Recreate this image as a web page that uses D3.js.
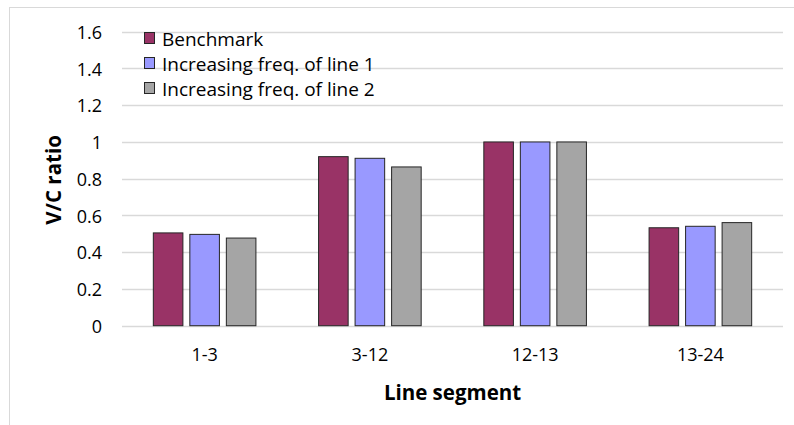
<!DOCTYPE html>
<html>
<head>
<meta charset="utf-8">
<script src="https://cdn.jsdelivr.net/npm/d3@7"></script>
<style>
  html, body { margin: 0; padding: 0; background: #fff; }
  svg { display: block; }
  text { font-family: "Open Sans", Lato, sans-serif; fill: #000; }
</style>
</head>
<body>
<svg id="chart" width="794" height="425"></svg>
<script>
// Line segments and V/C ratios per scenario
const segments = ["1-3", "3-12", "12-13", "13-24"];
const seriesNames = ["Benchmark", "Increasing freq. of line 1", "Increasing freq. of line 2"];
const benchmark = [0.505, 0.92, 1.00, 0.533];
const freqLine1 = [0.497, 0.911, 1.00, 0.541];
const freqLine2 = [0.477, 0.864, 1.00, 0.561];
const yTicks = [0, 0.2, 0.4, 0.6, 0.8, 1, 1.2, 1.4, 1.6];
const colors = ["#993366", "#9999FF", "#A5A5A5"];

const seriesValues = [benchmark, freqLine1, freqLine2];
const FONT = "'Open Sans', Lato, sans-serif";

const svg = d3.select("#chart");
const W = 794, H = 425;

// Chart frame
svg.append("rect")
  .attr("x", 9.5).attr("y", 7.5)
  .attr("width", W + 10).attr("height", H + 10)
  .attr("fill", "#fff").attr("stroke", "#d9d9d9").attr("stroke-width", 1);

const plot = { left: 122, right: 783, top: 31.7, bottom: 325.7 };

const x = d3.scaleBand().domain(segments).range([plot.left, plot.right]);
const xInner = d3.scaleBand().domain(d3.range(seriesNames.length))
  .range([-51.3, 51.3]).paddingInner(0.19);
const y = d3.scaleLinear().domain([0, 1.6]).range([plot.bottom, plot.top]);

// Horizontal gridlines
svg.append("g").selectAll("line").data(yTicks).join("line")
  .attr("x1", plot.left).attr("x2", plot.right)
  .attr("y1", d => Math.round(y(d)) + 0.5).attr("y2", d => Math.round(y(d)) + 0.5)
  .attr("stroke", "#d9d9d9").attr("stroke-width", 1.3);

// Y axis tick labels
const yAxis = d3.axisLeft(y).tickValues(yTicks).tickSize(0).tickPadding(0)
  .tickFormat(d => d3.format("")(+d.toFixed(1)));
svg.append("g").attr("transform", `translate(102,1)`).call(yAxis)
  .call(g => g.select(".domain").remove())
  .selectAll("text").attr("font-size", 18).attr("font-family", FONT).attr("fill", "#000");

// Bars
const groups = svg.append("g").selectAll("g").data(segments).join("g")
  .attr("transform", d => `translate(${x(d) + x.bandwidth() / 2},0)`);
groups.selectAll("rect")
  .data((d, i) => seriesValues.map((vals, s) => ({ s, v: vals[i] })))
  .join("rect")
  .attr("x", d => xInner(d.s))
  .attr("width", xInner.bandwidth())
  .attr("y", d => y(d.v))
  .attr("height", d => y(0) - y(d.v))
  .attr("fill", d => colors[d.s])
  .attr("stroke", "#262626").attr("stroke-width", 1);

// X axis category labels
const xAxis = d3.axisBottom(x).tickSize(0).tickPadding(0);
svg.append("g").attr("transform", `translate(0,${plot.bottom + 24})`).call(xAxis)
  .call(g => g.select(".domain").remove())
  .selectAll("text").attr("font-size", 18).attr("font-family", FONT).attr("fill", "#000")
  .attr("dy", "0.32em").attr("y", 6);

// Axis titles
svg.append("text")
  .attr("x", (plot.left + plot.right) / 2).attr("y", 392)
  .attr("text-anchor", "middle").attr("dominant-baseline", "central")
  .attr("font-size", 20.5).attr("font-weight", "bold")
  .text("Line segment");

svg.append("text")
  .attr("transform", `translate(53,180) rotate(-90)`)
  .attr("text-anchor", "middle").attr("dominant-baseline", "central")
  .attr("font-size", 20.5).attr("font-weight", "bold")
  .text("V/C ratio");

// Legend
const legend = svg.append("g").attr("transform", "translate(144,32)");
const items = legend.selectAll("g").data(seriesNames).join("g")
  .attr("transform", (d, i) => `translate(0,${i * 25})`);
items.append("rect")
  .attr("x", 0.5).attr("y", 0.5).attr("width", 10).attr("height", 11)
  .attr("fill", (d, i) => colors[i]).attr("stroke", "#262626").attr("stroke-width", 1);
items.append("text")
  .attr("x", 18).attr("y", 6.5).attr("dominant-baseline", "central")
  .attr("font-size", 19)
  .text(d => d);
</script>
</body>
</html>
